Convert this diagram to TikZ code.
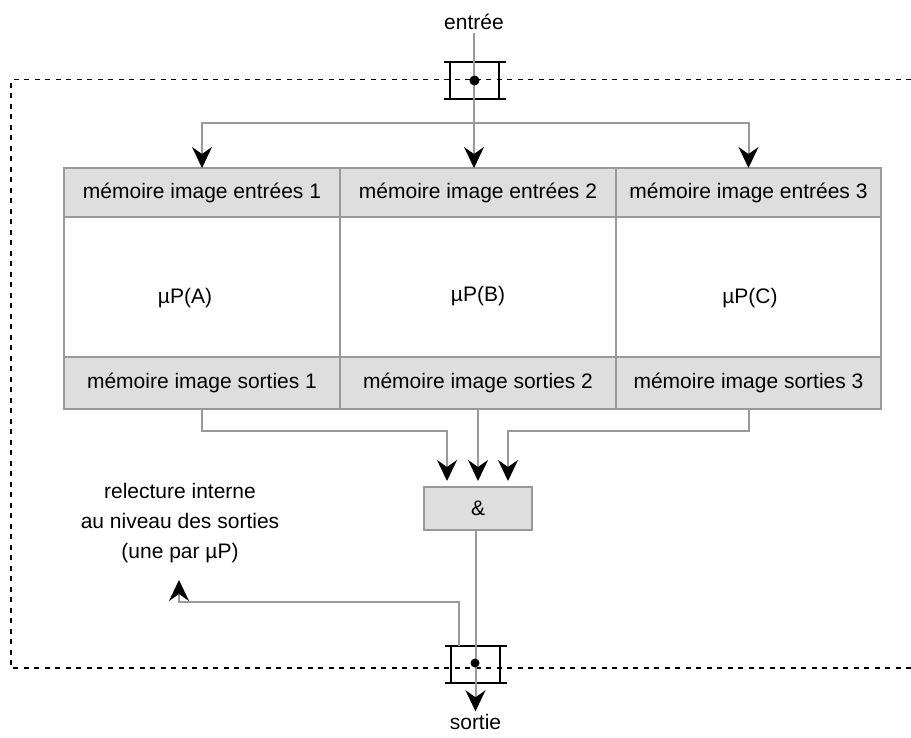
\documentclass[tikz,border=0pt]{standalone}
\usepackage{fontspec}
\setmainfont{Liberation Sans}
\usetikzlibrary{arrows.meta}
\definecolor{lgray}{HTML}{999999}
\definecolor{cellfill}{HTML}{DEDEDE}
\begin{document}
\begin{tikzpicture}[x=1pt,y=-1pt,
  font=\fontsize{21}{30}\selectfont,
  cellbox/.style={draw=lgray, line width=2pt, inner sep=0pt, outer sep=0pt},
  hdrcell/.style={cellbox, fill=cellfill},
  gl/.style={draw=lgray, line width=2pt},
  arr/.style={-{Stealth[length=21pt,width=20pt,inset=7pt,color=black]}},
  frame/.style={draw=black, line width=1.6pt, dash pattern=on 5pt off 5.5pt},
  connbox/.style={draw=black, line width=2pt, inner sep=0pt, outer sep=0pt, minimum width=49pt, minimum height=37.5pt},
  lbl/.style={inner sep=0pt, outer sep=3pt}]
\useasboundingbox (0,0) rectangle (911,737);
% dashed frame
\draw[frame] (911,79.5) -- (11,79.5) -- (11,668) -- (911,668);
% table cells
\node[hdrcell, minimum width=276pt, minimum height=49pt] (e1) at (202,192.5) {mémoire image entrées 1};
\node[hdrcell, minimum width=276pt, minimum height=49pt] (e2) at (478,192.5) {mémoire image entrées 2};
\node[hdrcell, minimum width=265pt, minimum height=49pt] (e3) at (748.5,192.5) {mémoire image entrées 3};
\node[cellbox, minimum width=276pt, minimum height=140pt] (p1) at (202,287) {};
\node[cellbox, minimum width=276pt, minimum height=140pt] (p2) at (478,287) {};
\node[cellbox, minimum width=265pt, minimum height=140pt] (p3) at (748.5,287) {};
\node[lbl] (pa) at (185,298) {µP(A)};
\node[lbl] (pb) at (478,296) {µP(B)};
\node[lbl] (pc) at (750,298) {µP(C)};
\node[hdrcell, minimum width=276pt, minimum height=52pt] (s1) at (202,383) {mémoire image sorties 1};
\node[hdrcell, minimum width=276pt, minimum height=52pt] (s2) at (478,383) {mémoire image sorties 2};
\node[hdrcell, minimum width=265pt, minimum height=52pt] (s3) at (748.5,383) {mémoire image sorties 3};
% AND box
\node[hdrcell, minimum width=108pt, minimum height=43pt] (and) at (478,508.5) {\&};
% labels
\node[lbl] (en) at (474,22) {entrée};
\node[lbl] (so) at (475.5,722) {sortie};
\node[lbl, align=center] (rel) at (180,523) {relecture interne\\au niveau des sorties\\(une par µP)};
% connector boxes
\node[connbox] (ct) at (474.5,80.5) {};
\draw[line width=2pt] ([xshift=-6pt]ct.north west) -- ([xshift=7pt]ct.north east);
\draw[line width=2pt] ([xshift=-6pt]ct.south west) -- ([xshift=7pt]ct.south east);
\node[connbox] (cb) at (475.5,664.5) {};
\draw[line width=2pt] ([xshift=-6pt]cb.north west) -- ([xshift=7pt]cb.north east);
\draw[line width=2pt] ([xshift=-6pt]cb.south west) -- ([xshift=7pt]cb.south east);
% input distribution
\coordinate (split) at (474,122.5);
\draw[gl,arr] (en.south) -- (en.south |- e2.north);
\draw[gl,arr] (split) -| (e1.north);
\draw[gl,arr] (split) -| (e3.north);
% outputs to AND
\draw[gl,arr] (s1.south) -- ++(0,22) -| ([xshift=-31pt,yshift=6pt]and.north);
\draw[gl,arr] (s2.south) -- ([yshift=6pt]and.north);
\draw[gl,arr] (s3.south) -- ++(0,22) -| ([xshift=30pt,yshift=6pt]and.north);
% output
\draw[gl,arr] (cb |- and.south) -- (so.north);
% feedback
\coordinate (fbend) at (179,580);
\draw[gl,arr] ([xshift=-16.5pt]cb.north) -- ++(0,-44) -| (fbend);
% dots
\fill (ct.center) circle (5pt);
\fill (475,663) circle (4.5pt);
\end{tikzpicture}
\end{document}
